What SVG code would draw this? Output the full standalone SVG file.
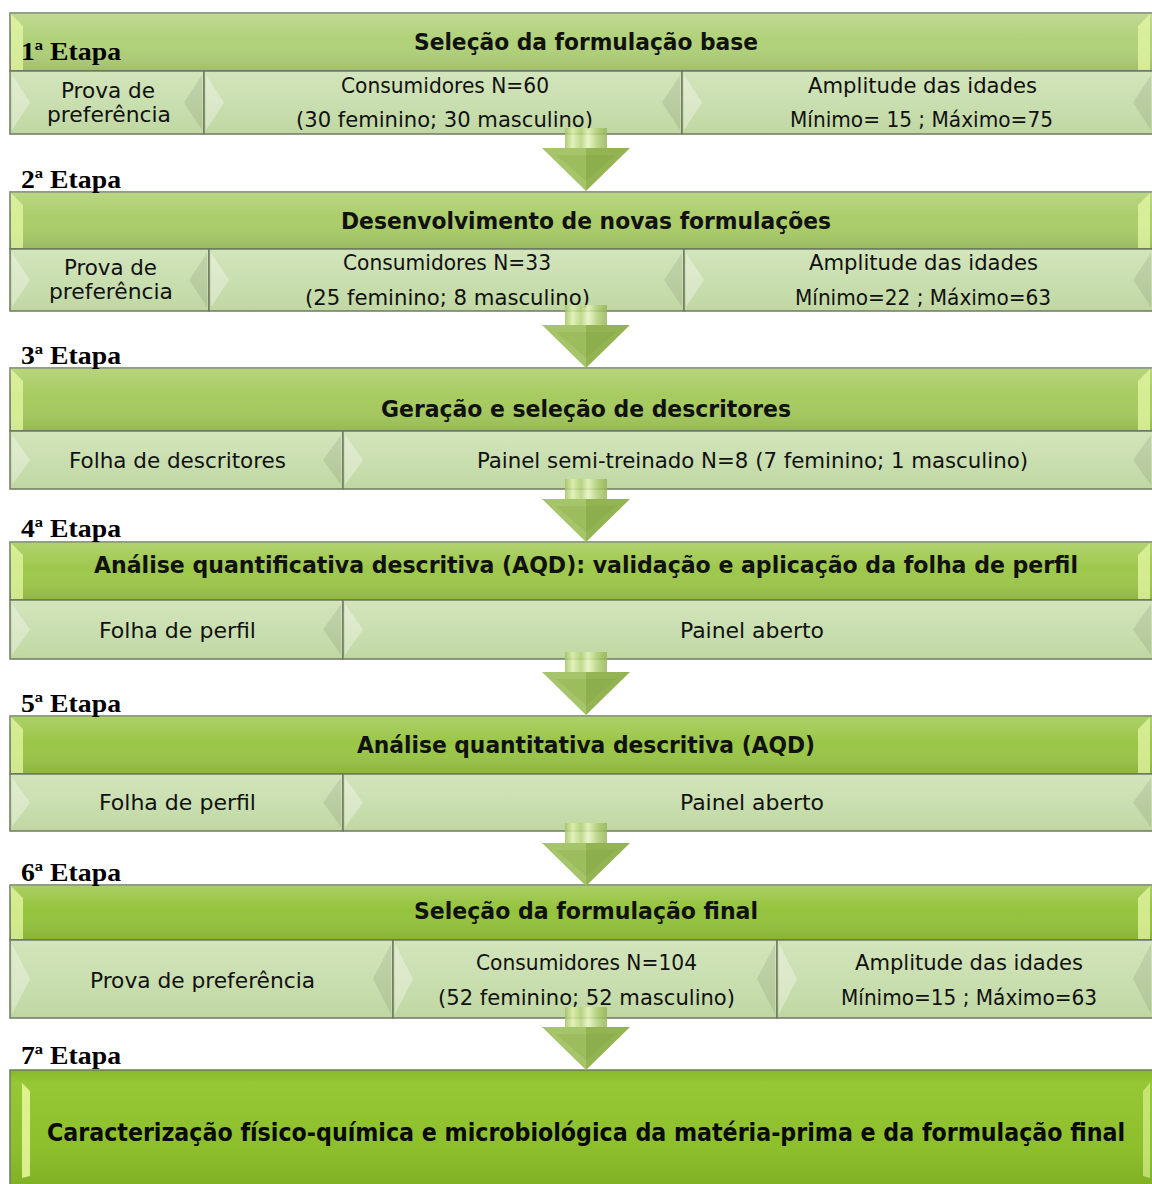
<svg xmlns="http://www.w3.org/2000/svg" width="1152" height="1184" viewBox="0 0 1152 1184">
<defs>
<linearGradient id="ov" x1="0" y1="0" x2="0" y2="1">
<stop offset="0" stop-color="#ffffff" stop-opacity="0.2"/>
<stop offset="0.45" stop-color="#ffffff" stop-opacity="0"/>
<stop offset="1" stop-color="#000000" stop-opacity="0.1"/>
</linearGradient>
<linearGradient id="gs" x1="0" y1="0" x2="0" y2="1">
<stop offset="0" stop-color="#d3e5bc"/>
<stop offset="0.5" stop-color="#cadfb0"/>
<stop offset="1" stop-color="#c0d7a3"/>
</linearGradient>
<linearGradient id="g7" x1="0" y1="0" x2="0" y2="1">
<stop offset="0" stop-color="#86b82a"/>
<stop offset="0.1" stop-color="#96c734"/>
<stop offset="0.6" stop-color="#8dbf2d"/>
<stop offset="1" stop-color="#7aab22"/>
</linearGradient>
<linearGradient id="gshaft" x1="0" y1="0" x2="1" y2="0">
<stop offset="0" stop-color="#a2c262"/>
<stop offset="0.18" stop-color="#dcefae"/>
<stop offset="0.38" stop-color="#b4d27a"/>
<stop offset="0.55" stop-color="#e4f4bc"/>
<stop offset="0.78" stop-color="#b0cd74"/>
<stop offset="1" stop-color="#95b556"/>
</linearGradient>
<g id="arrow">
<rect x="-21" y="0" width="42" height="22" fill="url(#gshaft)" opacity="0.85"/>
<polygon points="-44,20 0,20 0,63" fill="#a6c469"/>
<polygon points="0,20 44,20 0,63" fill="#94b454"/>
<polygon points="-30,27 0,27 0,53" fill="#9ab95a" opacity="0.7"/>
<polygon points="0,27 30,27 0,53" fill="#8aab4a" opacity="0.7"/>
</g>
</defs>
<style>
.hb{stroke:#6f7a62;stroke-width:1.5}
.sb{fill:url(#gs);stroke:#6f7a62;stroke-width:1.5}
.ovl{fill:url(#ov)}
.bl{fill:#ffffff;opacity:0.32}
.br{fill:#000000;opacity:0.08}
.hl{fill:#e6f7a6;opacity:0.75}
.lab{font-family:"Liberation Serif","DejaVu Serif",serif;font-weight:bold;font-size:25px;fill:#000}
.hd{font-family:"DejaVu Sans Condensed","DejaVu Sans",sans-serif;font-weight:bold;font-size:23px;text-anchor:middle;fill:#111}
.tx{font-family:"DejaVu Sans Condensed","DejaVu Sans",sans-serif;font-size:22px;text-anchor:middle;fill:#111}
.hd7{font-family:"DejaVu Sans Condensed","DejaVu Sans",sans-serif;font-weight:bold;font-size:24px;text-anchor:middle;fill:#0a0a0a}
</style>
<rect width="1152" height="1184" fill="#ffffff"/>

<!-- Stage 1 -->
<g id="etapa1">
<rect class="hb" x="10" y="13" width="1143" height="58" fill="#b1d179"/>
<rect class="ovl" x="10" y="13" width="1143" height="58"/>
<polygon class="hl" points="11,14 23,26 23,70 11,70"/>
<polygon class="hl" points="1138,26 1150,14 1150,70 1138,70"/>
<text class="hd" x="586" y="50" textLength="344" lengthAdjust="spacingAndGlyphs">Seleção da formulação base</text>
</g>
<g id="etapa1-prova">
<rect class="sb" x="10" y="71" width="194" height="63"/>
<polygon class="bl" points="12,75 30,102.5 12,130"/>
<polygon class="br" points="202,75 184,102.5 202,130"/>
<text class="tx" x="108" y="98" textLength="94" lengthAdjust="spacingAndGlyphs">Prova de</text>
<text class="tx" x="109" y="122" textLength="124" lengthAdjust="spacingAndGlyphs">preferência</text>
</g>
<g id="etapa1-consumidores">
<rect class="sb" x="204" y="71" width="478" height="63"/>
<polygon class="bl" points="206,75 224,102.5 206,130"/>
<polygon class="br" points="680,75 662,102.5 680,130"/>
<text class="tx" x="445" y="93" textLength="208" lengthAdjust="spacingAndGlyphs">Consumidores N=60</text>
<text class="tx" x="444.5" y="127" textLength="297" lengthAdjust="spacingAndGlyphs">(30 feminino; 30 masculino)</text>
</g>
<g id="etapa1-idades">
<rect class="sb" x="682" y="71" width="471" height="63"/>
<polygon class="bl" points="684,75 702,102.5 684,130"/>
<polygon class="br" points="1151,75 1133,102.5 1151,130"/>
<text class="tx" x="922.5" y="93" textLength="229" lengthAdjust="spacingAndGlyphs">Amplitude das idades</text>
<text class="tx" x="921.5" y="127" textLength="263" lengthAdjust="spacingAndGlyphs">Mínimo= 15 ; Máximo=75</text>
</g>

<!-- Stage 2 -->
<g id="etapa2">
<rect class="hb" x="10" y="192" width="1143" height="57" fill="#aacd69"/>
<rect class="ovl" x="10" y="192" width="1143" height="57"/>
<polygon class="hl" points="11,193 23,205 23,248 11,248"/>
<polygon class="hl" points="1138,205 1150,193 1150,248 1138,248"/>
<text class="hd" x="586" y="229" textLength="490" lengthAdjust="spacingAndGlyphs">Desenvolvimento de novas formulações</text>
</g>
<g id="etapa2-prova">
<rect class="sb" x="10" y="249" width="199" height="62"/>
<polygon class="bl" points="12,253 30,280 12,307"/>
<polygon class="br" points="207,253 189,280 207,307"/>
<text class="tx" x="110.5" y="275" textLength="93" lengthAdjust="spacingAndGlyphs">Prova de</text>
<text class="tx" x="111" y="299" textLength="124" lengthAdjust="spacingAndGlyphs">preferência</text>
</g>
<g id="etapa2-consumidores">
<rect class="sb" x="209" y="249" width="475" height="62"/>
<polygon class="bl" points="211,253 229,280 211,307"/>
<polygon class="br" points="682,253 664,280 682,307"/>
<text class="tx" x="447" y="270" textLength="208" lengthAdjust="spacingAndGlyphs">Consumidores N=33</text>
<text class="tx" x="447.5" y="305" textLength="285" lengthAdjust="spacingAndGlyphs">(25 feminino; 8 masculino)</text>
</g>
<g id="etapa2-idades">
<rect class="sb" x="684" y="249" width="469" height="62"/>
<polygon class="bl" points="686,253 704,280 686,307"/>
<polygon class="br" points="1151,253 1133,280 1151,307"/>
<text class="tx" x="923.5" y="270" textLength="229" lengthAdjust="spacingAndGlyphs">Amplitude das idades</text>
<text class="tx" x="923" y="305" textLength="256" lengthAdjust="spacingAndGlyphs">Mínimo=22 ; Máximo=63</text>
</g>

<!-- Stage 3 -->
<g id="etapa3">
<rect class="hb" x="10" y="368" width="1143" height="63" fill="#a6cb5f"/>
<rect class="ovl" x="10" y="368" width="1143" height="63"/>
<polygon class="hl" points="11,369 23,381 23,430 11,430"/>
<polygon class="hl" points="1138,381 1150,369 1150,430 1138,430"/>
<text class="hd" x="586" y="417" textLength="410" lengthAdjust="spacingAndGlyphs">Geração e seleção de descritores</text>
</g>
<g id="etapa3-folha">
<rect class="sb" x="10" y="431" width="333" height="58"/>
<polygon class="bl" points="12,435 30,460 12,485"/>
<polygon class="br" points="341,435 323,460 341,485"/>
<text class="tx" x="177.5" y="468" textLength="217" lengthAdjust="spacingAndGlyphs">Folha de descritores</text>
</g>
<g id="etapa3-painel">
<rect class="sb" x="343" y="431" width="810" height="58"/>
<polygon class="bl" points="345,435 363,460 345,485"/>
<polygon class="br" points="1151,435 1133,460 1151,485"/>
<text class="tx" x="752.5" y="468" textLength="551" lengthAdjust="spacingAndGlyphs">Painel semi-treinado N=8 (7 feminino; 1 masculino)</text>
</g>

<!-- Stage 4 -->
<g id="etapa4">
<rect class="hb" x="10" y="542" width="1143" height="58" fill="#9ec84c"/>
<rect class="ovl" x="10" y="542" width="1143" height="58"/>
<polygon class="hl" points="11,543 23,555 23,599 11,599"/>
<polygon class="hl" points="1138,555 1150,543 1150,599 1138,599"/>
<text class="hd" x="586" y="573" textLength="984" lengthAdjust="spacingAndGlyphs">Análise quantificativa descritiva (AQD): validação e aplicação da folha de perfil</text>
</g>
<g id="etapa4-folha">
<rect class="sb" x="10" y="600" width="333" height="59"/>
<polygon class="bl" points="12,604 30,629.5 12,655"/>
<polygon class="br" points="341,604 323,629.5 341,655"/>
<text class="tx" x="177.5" y="638" textLength="157" lengthAdjust="spacingAndGlyphs">Folha de perfil</text>
</g>
<g id="etapa4-painel">
<rect class="sb" x="343" y="600" width="810" height="59"/>
<polygon class="bl" points="345,604 363,629.5 345,655"/>
<polygon class="br" points="1151,604 1133,629.5 1151,655"/>
<text class="tx" x="752" y="638" textLength="144" lengthAdjust="spacingAndGlyphs">Painel aberto</text>
</g>

<!-- Stage 5 -->
<g id="etapa5">
<rect class="hb" x="10" y="716" width="1143" height="58" fill="#9ac647"/>
<rect class="ovl" x="10" y="716" width="1143" height="58"/>
<polygon class="hl" points="11,717 23,729 23,773 11,773"/>
<polygon class="hl" points="1138,729 1150,717 1150,773 1138,773"/>
<text class="hd" x="586" y="753" textLength="458" lengthAdjust="spacingAndGlyphs">Análise quantitativa descritiva (AQD)</text>
</g>
<g id="etapa5-folha">
<rect class="sb" x="10" y="774" width="333" height="57"/>
<polygon class="bl" points="12,778 30,802.5 12,827"/>
<polygon class="br" points="341,778 323,802.5 341,827"/>
<text class="tx" x="177.5" y="810" textLength="157" lengthAdjust="spacingAndGlyphs">Folha de perfil</text>
</g>
<g id="etapa5-painel">
<rect class="sb" x="343" y="774" width="810" height="57"/>
<polygon class="bl" points="345,778 363,802.5 345,827"/>
<polygon class="br" points="1151,778 1133,802.5 1151,827"/>
<text class="tx" x="752" y="810" textLength="144" lengthAdjust="spacingAndGlyphs">Painel aberto</text>
</g>

<!-- Stage 6 -->
<g id="etapa6">
<rect class="hb" x="10" y="885" width="1143" height="55" fill="#95c33d"/>
<rect class="ovl" x="10" y="885" width="1143" height="55"/>
<polygon class="hl" points="11,886 23,898 23,939 11,939"/>
<polygon class="hl" points="1138,898 1150,886 1150,939 1138,939"/>
<text class="hd" x="586" y="919" textLength="344" lengthAdjust="spacingAndGlyphs">Seleção da formulação final</text>
</g>
<g id="etapa6-prova">
<rect class="sb" x="10" y="940" width="383" height="78"/>
<polygon class="bl" points="12,944 30,979 12,1014"/>
<polygon class="br" points="391,944 373,979 391,1014"/>
<text class="tx" x="202.5" y="988" textLength="225" lengthAdjust="spacingAndGlyphs">Prova de preferência</text>
</g>
<g id="etapa6-consumidores">
<rect class="sb" x="393" y="940" width="384" height="78"/>
<polygon class="bl" points="395,944 413,979 395,1014"/>
<polygon class="br" points="775,944 757,979 775,1014"/>
<text class="tx" x="586.5" y="970" textLength="221" lengthAdjust="spacingAndGlyphs">Consumidores N=104</text>
<text class="tx" x="586.5" y="1005" textLength="297" lengthAdjust="spacingAndGlyphs">(52 feminino; 52 masculino)</text>
</g>
<g id="etapa6-idades">
<rect class="sb" x="777" y="940" width="376" height="78"/>
<polygon class="bl" points="779,944 797,979 779,1014"/>
<polygon class="br" points="1151,944 1133,979 1151,1014"/>
<text class="tx" x="969" y="970" textLength="228" lengthAdjust="spacingAndGlyphs">Amplitude das idades</text>
<text class="tx" x="969" y="1005" textLength="256" lengthAdjust="spacingAndGlyphs">Mínimo=15 ; Máximo=63</text>
</g>

<!-- Stage 7 -->
<g id="etapa7">
<rect x="10" y="1070" width="1143" height="130" fill="url(#g7)" stroke="#6f7a62" stroke-width="1.5"/>
<polygon fill="#e8f9a0" opacity="0.85" points="22,1083 30,1091 30,1176 22,1178"/>
<polygon fill="#e8f9a0" opacity="0.6" points="1143,1091 1150,1083 1150,1178 1143,1176"/>
<text class="hd7" x="586" y="1141" textLength="1078" lengthAdjust="spacingAndGlyphs">Caracterização físico-química e microbiológica da matéria-prima e da formulação final</text>
</g>

<!-- Connectors -->
<g id="connectors">
<use href="#arrow" x="586" y="128"/>
<use href="#arrow" x="586" y="305"/>
<use href="#arrow" x="586" y="479"/>
<use href="#arrow" x="586" y="652"/>
<use href="#arrow" x="586" y="823"/>
<use href="#arrow" x="586" y="1007"/>
</g>

<!-- Stage labels -->
<g id="labels">
<text class="lab" x="21" y="60" textLength="100" lengthAdjust="spacingAndGlyphs">1ª Etapa</text>
<text class="lab" x="21" y="188" textLength="100" lengthAdjust="spacingAndGlyphs">2ª Etapa</text>
<text class="lab" x="21" y="364" textLength="100" lengthAdjust="spacingAndGlyphs">3ª Etapa</text>
<text class="lab" x="21" y="537" textLength="100" lengthAdjust="spacingAndGlyphs">4ª Etapa</text>
<text class="lab" x="21" y="712" textLength="100" lengthAdjust="spacingAndGlyphs">5ª Etapa</text>
<text class="lab" x="21" y="881" textLength="100" lengthAdjust="spacingAndGlyphs">6ª Etapa</text>
<text class="lab" x="21" y="1064" textLength="100" lengthAdjust="spacingAndGlyphs">7ª Etapa</text>
</g>
</svg>
